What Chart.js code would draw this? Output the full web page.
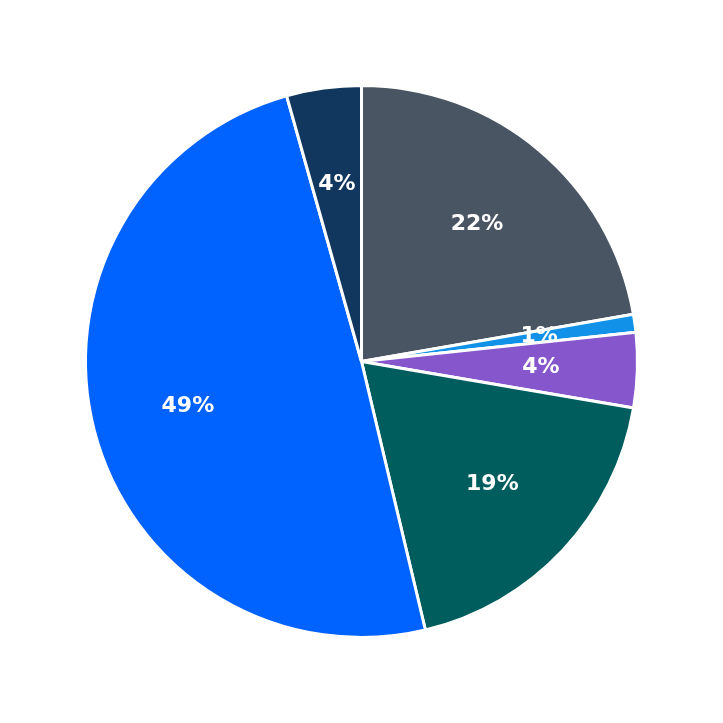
<!DOCTYPE html>
<html><head><meta charset="utf-8">
<script src="https://cdn.jsdelivr.net/npm/chart.js@4"></script>
<style>html,body{margin:0;background:#fff}#w{width:723px;height:723px}</style>
</head><body><div id="w"><canvas id="c"></canvas></div>
<script>
const labels = ["A","B","C","D","E","F"];
const values = [22.15, 1.05, 4.35, 18.5, 49.1, 4.35];
const colors = ["#4a5563","#1192e8","#8556cc","#005d5d","#0062ff","#12375f"];
const pctPlugin = {
  id:'pct',
  afterDatasetsDraw(chart){
    const ctx = chart.ctx;
    const total = values.reduce((a,b)=>a+b,0);
    chart.getDatasetMeta(0).data.forEach((arc,i)=>{
      const a = (arc.startAngle+arc.endAngle)/2;
      const r = arc.outerRadius*0.65;
      ctx.save();
      ctx.fillStyle='#fff';
      ctx.font='bold 22px "DejaVu Sans"';
      ctx.textAlign='center';ctx.textBaseline='middle';
      ctx.fillText(Math.round(values[i]/total*100)+'%', arc.x+Math.cos(a)*r, arc.y+Math.sin(a)*r);
      ctx.restore();
    });
  }
};
new Chart(document.getElementById('c'),{
  type:'pie',
  data:{labels,datasets:[{data:values,backgroundColor:colors,borderColor:'#fff',borderWidth:3}]},
  options:{responsive:true,maintainAspectRatio:false,animation:false,
    layout:{padding:84},
    plugins:{legend:{display:false},tooltip:{enabled:false}}},
  plugins:[pctPlugin]
});
</script></body></html>
